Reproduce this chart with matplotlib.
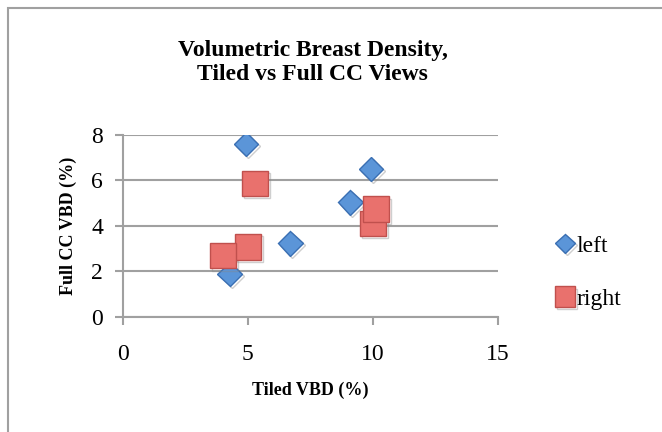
import matplotlib
matplotlib.use("Agg")
import matplotlib.pyplot as plt
import matplotlib.patheffects as pe
from matplotlib.patches import Rectangle

# Tiled vs full CC volumetric breast density
left_x = [4.92, 9.92, 9.1, 6.7, 4.28]
left_y = [7.6, 6.5, 5.04, 3.23, 1.88]
right_x = [5.28, 10.0, 10.13, 5.0, 4.0]
right_y = [5.87, 4.11, 4.73, 3.08, 2.69]
xticks = [0, 5, 10, 15]
yticks = [0, 2, 4, 6, 8]

plt.rcParams['font.family'] = ['Liberation Serif', 'DejaVu Serif']

fig = plt.figure(figsize=(6.62, 4.32), dpi=100)
# outer chart border (only left and top visible in the crop)
fig.patches.append(Rectangle((8 / 662, -0.1), 1.2, (432 - 8) / 432 + 0.1,
                             transform=fig.transFigure, fill=False,
                             edgecolor='#a0a0a0', linewidth=1.5))

ax = fig.add_axes([0.1853, 0.2669, 0.567, 0.4206])
grey = '#a0a0a0'
shadow = [pe.SimpleLineShadow(offset=(1.5, -1.5), shadow_color='#888888', alpha=0.4), pe.Normal()]

ax.plot(left_x, left_y, linestyle='none', marker='D', markersize=12.5,
        markerfacecolor='#5b95d8', markeredgecolor='#3a6fb3', markeredgewidth=1,
        label='left', zorder=3, path_effects=shadow)
ax.plot(right_x, right_y, linestyle='none', marker='s', markersize=18.5,
        markerfacecolor='#e9716d', markeredgecolor='#c0504d', markeredgewidth=1,
        label='right', zorder=4, path_effects=shadow)

ax.set_xlim(0, 15)
ax.set_ylim(0, 8)
ax.set_xticks(xticks)
ax.set_yticks(yticks)
ax.yaxis.grid(True, color=grey, linewidth=1.5)
ax.set_axisbelow(True)
for s in ['top', 'right']:
    ax.spines[s].set_visible(False)
for s in ['left', 'bottom']:
    ax.spines[s].set_color(grey)
    ax.spines[s].set_linewidth(1.5)
ax.tick_params(direction='out', length=6, width=1.5, color=grey, labelsize=17)
ax.tick_params(axis='x', pad=14)
ax.tick_params(axis='y', pad=8)

ax.set_xlabel('Tiled VBD (%)', fontsize=13, fontweight='bold', labelpad=12)
ax.set_ylabel('Full CC VBD (%)', fontsize=13, fontweight='bold', labelpad=10)
fig.text(0.472, 0.855, 'Volumetric Breast Density,\nTiled vs Full CC Views',
         ha='center', va='center', fontsize=17, fontweight='bold', linespacing=1.2)

ax.legend(loc='center left', bbox_to_anchor=(1.09, 0.243), frameon=False,
          fontsize=17, handletextpad=0.0, labelspacing=1.35, handlelength=1.0,
          markerscale=0.8)

fig.savefig('out.png', dpi=100)
